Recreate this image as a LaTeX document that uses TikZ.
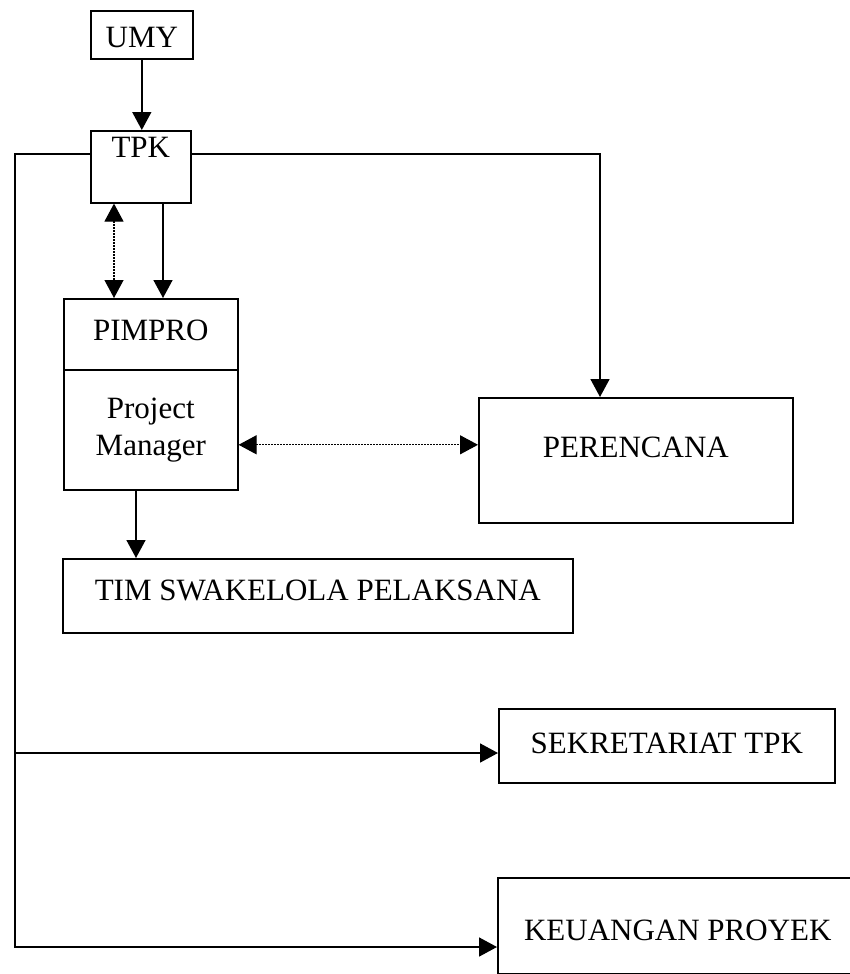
\documentclass[tikz,border=0pt]{standalone}
\usepackage{fontspec}
\setmainfont{Liberation Serif}
\usetikzlibrary{arrows.meta,calc}

\begin{document}
\begin{tikzpicture}[x=1pt,y=-1pt,
        unit/.style={draw,line width=1.6pt,inner sep=0pt,anchor=north west,font=\fontsize{31}{37}\selectfont},
        link/.style={line width=1.6pt,-{Triangle[length=18pt,width=19pt]}},
        duo/.style={line width=1.2pt,dash pattern=on 1.5pt off 1.5pt,{Triangle[length=18pt,width=19pt]}-{Triangle[length=18pt,width=19pt]}}]
    \useasboundingbox (0,0) rectangle (850,974);
    \clip (0,0) rectangle (850,974);

    % Top
    \node[unit,minimum width=102pt,minimum height=48pt,text height=37pt,text depth=11pt] (umy) at (90,10) {UMY};
    \node[unit,minimum width=100pt,minimum height=72pt,text height=27pt,text depth=45pt] (tpk) at (90,130) {TPK};

    % Pimpro block
    \node[unit,minimum width=174pt,minimum height=71pt,text height=42pt,text depth=29pt] (pim) at (63,298) {PIMPRO};
    \node[unit,minimum width=174pt,minimum height=120pt,align=center] (pm) at (63,369) {Project\\Manager};

    % Other units
    \node[unit,minimum width=314pt,minimum height=125pt,text height=60pt,text depth=65pt] (per) at (478,397) {PERENCANA};
    \node[unit,minimum width=510pt,minimum height=74pt,text height=42pt,text depth=32pt] (tim) at (62,558) {TIM SWAKELOLA PELAKSANA};
    \node[unit,minimum width=336pt,minimum height=74pt,text height=45pt,text depth=29pt] (sek) at (498,708) {SEKRETARIAT TPK};
    \node[unit,minimum width=360pt,minimum height=96pt,text height=63pt,text depth=33pt] (keu) at (497,877) {KEUANGAN PROYEK};

    % Corners and taps
    \coordinate (lcorner) at (15,154);
    \coordinate (lsek) at (15,753);
    \coordinate (lbottom) at (15,947);
    \coordinate (rcorner) at (600,154);
    \coordinate (dl) at ($(tpk.south west)+(24,0)$);
    \coordinate (sl) at ($(tpk.south west)+(73,0)$);
    \coordinate (pmdown) at ($(pm.south west)+(73,0)$);
    \coordinate (pmside) at ($(pm.east)+(0,15)$);

    % UMY to TPK
    \draw[link] (umy.south) -- (umy.south |- tpk.north);

    % TPK to PIMPRO
    \draw[duo] (dl) -- (dl |- pim.north);
    \draw[link] (sl) -- (sl |- pim.north);

    % Left trunk
    \draw[link] (tpk.west |- lcorner) -- (lcorner) -- (lbottom) -- (lbottom -| keu.west);
    \draw[link] (lsek) -- (lsek -| sek.west);

    % Right branch
    \draw[link] (tpk.east |- rcorner) -- (rcorner) -- (rcorner |- per.north);

    % Project Manager links
    \draw[duo] (pmside) -- (pmside -| per.west);
    \draw[link] (pmdown) -- (pmdown |- tim.north);
\end{tikzpicture}
\end{document}
